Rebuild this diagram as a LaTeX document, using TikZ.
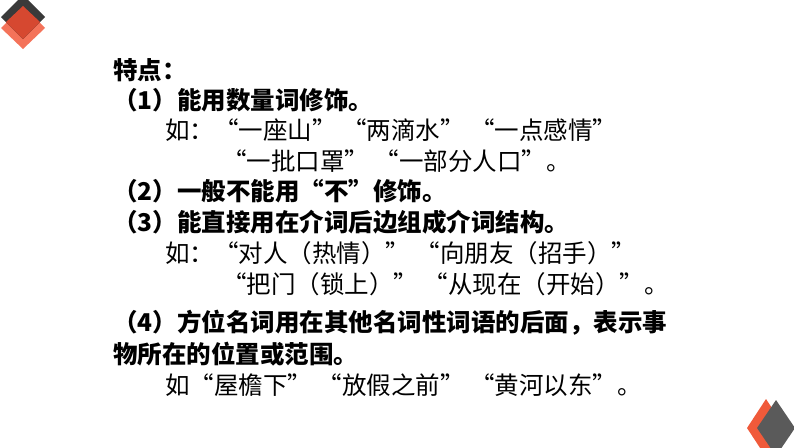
\documentclass[tikz,border=0pt]{standalone}
\usepackage{fontspec}
\newfontfamily\cjk{Noto Sans CJK SC}
\definecolor{darkslate}{RGB}{58,58,58}
\definecolor{salmon}{RGB}{244,115,90}
\definecolor{overlapred}{RGB}{214,72,48}
\definecolor{accentorange}{RGB}{240,90,58}
\definecolor{midgray}{RGB}{90,90,90}
\begin{document}
\begin{tikzpicture}[x=1pt,y=-1pt,
    txt/.style={anchor=west, inner sep=0pt, font=\cjk\fontsize{24.5}{24.5}\selectfont},
    head/.style={txt, font=\cjk\bfseries\fontsize{24.5}{24.5}\selectfont}]
    \useasboundingbox (0,0) rectangle (794,447);
    % Corner decoration, top left
    \fill[salmon] (1,28) -- (23,6) -- (45,28) -- (23,49) -- cycle;
    \fill[darkslate] (1,17) -- (23,-5) -- (45,17) -- (23,39) -- cycle;
    \fill[overlapred] (6,22) -- (23,6) -- (40,22) -- (23,39) -- cycle;
    % Corner decoration, bottom right
    \fill[accentorange] (747,428) -- (766,399) -- (785,428) -- (766,457) -- cycle;
    \fill[midgray] (757,428) -- (776,400) -- (795,428) -- (776,456) -- cycle;

    % Text lines
    \node[head] (title) at (113,70) {特点：};
    \node[head] (p1) at (113,100) {（1）能用数量词修饰。};
    \node[txt] (e1a) at (165,130) {如：“一座山” “两滴水” “一点感情”};
    \node[txt] (e1b) at (222,161) {“一批口罩” “一部分人口”。};
    \node[head] (p2) at (113,191) {（2）一般不能用“不”修饰。};
    \node[head] (p3) at (113,222) {（3）能直接用在介词后边组成介词结构。};
    \node[txt] (e3a) at (165,253) {如：“对人（热情）” “向朋友（招手）”};
    \node[txt] (e3b) at (222,284) {“把门（锁上）” “从现在（开始）”。};
    \node[head] (p4) at (113,323) {（4）方位名词用在其他名词性词语的后面，表示事};
    \node[head] (p4b) at (113,354) {物所在的位置或范围。};
    \node[txt] (e4) at (165,385) {如“屋檐下” “放假之前” “黄河以东”。};
\end{tikzpicture}
\end{document}
